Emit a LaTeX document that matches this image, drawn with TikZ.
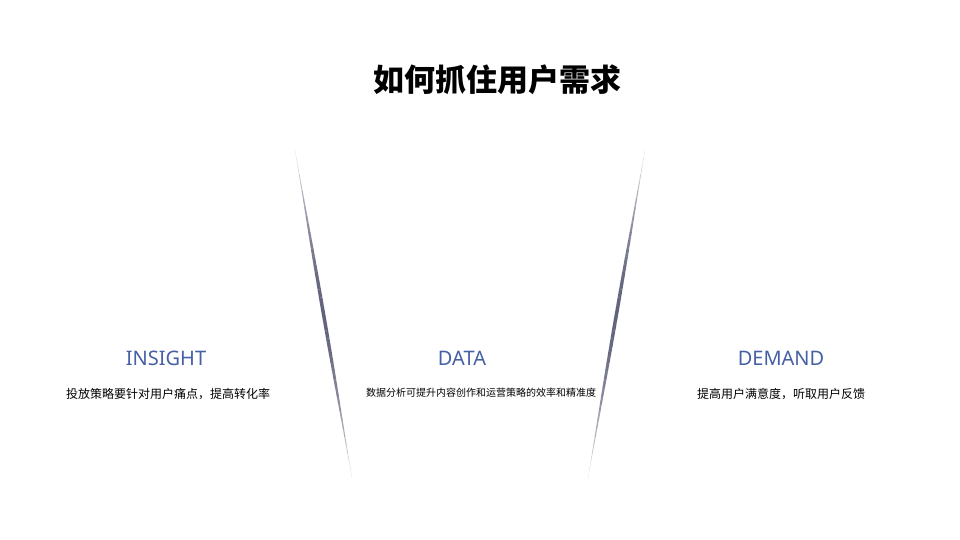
\documentclass[tikz,border=0pt]{standalone}
\usepackage{fontspec}
\usetikzlibrary{calc}
\setmainfont{Noto Sans}
\newfontfamily\cjk{Noto Sans CJK SC}
\definecolor{headblue}{RGB}{70,96,166}
\definecolor{linecol}{RGB}{70,72,100}
\tikzset{
  head/.style={font=\rmfamily\bfseries\fontsize{20}{24}\selectfont, text=headblue},
  body/.style={font=\cjk\fontsize{12}{14}\selectfont, text=black},
}
\begin{document}
\begin{tikzpicture}[x=1pt,y=-1pt]
\useasboundingbox[fill=white] (0,0) rectangle (960,540);
\node (title) at (497,80) {\cjk\bfseries\fontsize{31}{36}\selectfont 如何抓住用户需求};
\coordinate (la) at (295,150); \coordinate (lb) at (352,478);
\coordinate (ra) at (645,150); \coordinate (rb) at (588,478);
\foreach \i in {0,...,39}{
  \pgfmathsetmacro{\ta}{\i/40}
  \pgfmathsetmacro{\tb}{(\i+1)/40}
  \pgfmathsetmacro{\tm}{(\i+0.5)/40}
  \pgfmathsetmacro{\w}{0.3+3.2*sin(180*\tm)^1.5}
  \pgfmathsetmacro{\op}{0.1+0.75*sin(180*\tm)}
  \draw[linecol, line width=\w pt, opacity=\op] ($(la)!\ta!(lb)$) -- ($(la)!\tb!(lb)$);
  \draw[linecol, line width=\w pt, opacity=\op] ($(ra)!\ta!(rb)$) -- ($(ra)!\tb!(rb)$);
}
\node[head] (h1) at (166,358) {INSIGHT};
\node[head] (h2) at (462,358) {DATA};
\node[head] (h3) at (781,358) {DEMAND};
\node[body] (b1) at (168,394) {投放策略要针对用户痛点，提高转化率};
\node[body, font=\cjk\fontsize{10}{12}\selectfont] (b2) at (481,393) {数据分析可提升内容创作和运营策略的效率和精准度};
\node[body] (b3) at (781,394) {提高用户满意度，听取用户反馈};
\end{tikzpicture}
\end{document}
